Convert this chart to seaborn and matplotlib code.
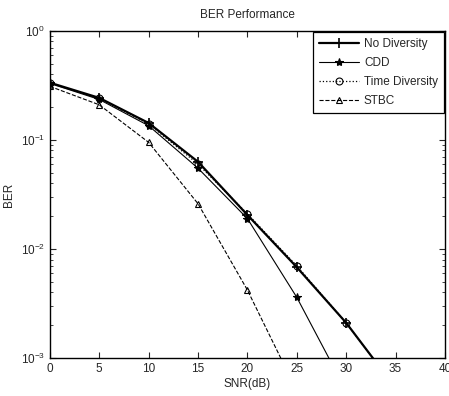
import matplotlib
matplotlib.use("Agg")
import matplotlib.pyplot as plt
import seaborn as sns
import pandas as pd
import numpy as np
from matplotlib.ticker import LogLocator, NullFormatter

snr = [0, 5, 10, 15, 20, 25, 30, 35]
ber_nodiv = [0.335, 0.243, 0.143, 0.063, 0.0205, 0.0068, 0.0021, 0.00053]
ber_cdd = [0.33, 0.235, 0.135, 0.055, 0.019, 0.0036, 0.0005, 0.00008]
ber_time = [0.33, 0.24, 0.14, 0.06, 0.021, 0.007, 0.0021, 0.00053]
ber_stbc = [0.31, 0.21, 0.095, 0.026, 0.0042, 0.0005, 0.00006, 0.000008]
series_names = ["No Diversity", "CDD", "Time Diversity", "STBC"]

sns.set_style("ticks")
plt.rcParams['font.family'] = ['Liberation Sans', 'DejaVu Sans']

rows = []
for name, vals in zip(series_names, [ber_nodiv, ber_cdd, ber_time, ber_stbc]):
    for s, b in zip(snr, vals):
        rows.append({"SNR": s, "BER": b, "series": name})
df = pd.DataFrame(rows)

fig = plt.figure(figsize=(4.49, 3.96), dpi=100)
ax = fig.add_axes([0.111, 0.096, 0.88, 0.826])

styles = {
    "No Diversity": dict(ls="-", lw=1.6, marker="+", ms=7, mew=1.2),
    "CDD": dict(ls="-", lw=0.8, marker="*", ms=6, mew=0.8),
    "Time Diversity": dict(ls=":", lw=0.9, marker="o", ms=5, mfc="none", mew=0.8),
    "STBC": dict(ls="--", lw=0.8, marker="^", ms=5, mfc="none", mew=0.8),
}
for name in series_names:
    sub = df[df.series == name]
    st = styles[name]
    sns.lineplot(data=sub, x="SNR", y="BER", ax=ax, color="black", label=name,
                 linestyle=st["ls"], linewidth=st["lw"], marker=st["marker"],
                 markersize=st["ms"], markeredgewidth=st["mew"],
                 markerfacecolor=st.get("mfc", "black"), markeredgecolor="black")

ax.set_yscale("log")
ax.set_xlim(0, 40)
ax.set_ylim(1e-3, 1)
ax.set_xticks(range(0, 41, 5))
ax.yaxis.set_major_locator(LogLocator(base=10, numticks=10))
ax.yaxis.set_minor_locator(LogLocator(base=10, subs=np.arange(2, 10), numticks=20))
ax.yaxis.set_minor_formatter(NullFormatter())
ax.tick_params(which="both", direction="in", top=True, right=True, labelsize=8.5)
ax.tick_params(which="major", length=4, width=0.8)
ax.tick_params(which="minor", length=2, width=0.6)
for sp in ax.spines.values():
    sp.set_linewidth(1.0)
    sp.set_color("black")

ax.set_title("BER Performance", fontsize=8.5, pad=9)
ax.set_xlabel("SNR(dB)", fontsize=8.5, labelpad=2)
ax.set_ylabel("BER", fontsize=8.5, labelpad=4)

leg = ax.legend(loc="upper right", fontsize=8.5, frameon=True, fancybox=False,
                edgecolor="black", framealpha=1, borderaxespad=0.1,
                handlelength=3.4, handletextpad=0.4, labelspacing=0.6,
                borderpad=0.5)
leg.get_frame().set_linewidth(0.9)

fig.savefig("out.png", dpi=100)
